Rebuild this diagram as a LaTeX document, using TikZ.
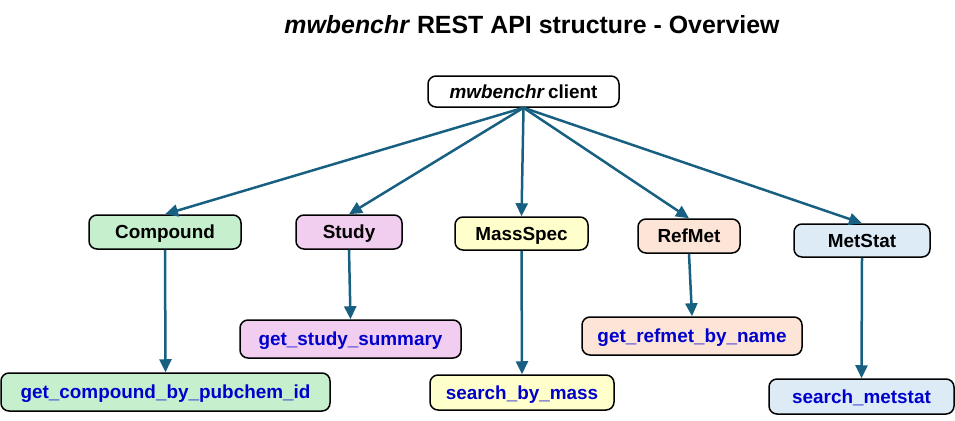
\documentclass[tikz,border=0pt]{standalone}
\usepackage{fontspec}
\setmainfont{Liberation Sans}
\usetikzlibrary{arrows.meta}
\definecolor{arrowc}{RGB}{24,96,130}
\definecolor{fgreen}{RGB}{198,239,206}
\definecolor{fpink}{RGB}{241,206,239}
\definecolor{fyellow}{RGB}{255,255,204}
\definecolor{fpeach}{RGB}{252,228,214}
\definecolor{fblue}{RGB}{221,235,247}
\definecolor{methc}{RGB}{0,0,204}
\tikzset{
  box/.style={draw=black, line width=1.5pt, rounded corners=8pt, inner sep=0pt,
    font=\fontsize{18.9}{20}\selectfont\bfseries, text height=13.5pt, text depth=0pt},
  cat/.style={box},
  meth/.style={box, text=methc},
  conn/.style={draw=arrowc, line width=2.5pt, -{Triangle[length=13pt,width=12pt]}},
}
\begin{document}
\begin{tikzpicture}[x=1pt,y=-1pt]
\useasboundingbox (0,0) rectangle (955,420);
\node[font=\fontsize{24.9}{28}\selectfont\bfseries] (title) at (532,25) {\textit{mwbenchr} REST API structure - Overview};
\node[box, fill=white, minimum width=191pt, minimum height=31pt] (client) at (523.5,91.5) {\textit{mwbenchr}\,client};

\node[cat, fill=fgreen, minimum width=152pt, minimum height=34pt] (compound) at (165,232) {Compound};
\node[cat, fill=fpink, minimum width=106pt, minimum height=34pt] (study) at (349,232) {Study};
\node[cat, fill=fyellow, minimum width=133pt, minimum height=33pt] (massspec) at (521.5,233.5) {MassSpec};
\node[cat, fill=fpeach, minimum width=102pt, minimum height=34pt] (refmet) at (689,236) {RefMet};
\node[cat, fill=fblue, minimum width=136pt, minimum height=33pt] (metstat) at (862,240.5) {MetStat};

\node[meth, fill=fgreen, minimum width=329pt, minimum height=38pt] (m1) at (165.5,392) {get\_compound\_by\_pubchem\_id};
\node[meth, fill=fpink, minimum width=221pt, minimum height=38pt] (m2) at (350.5,339) {get\_study\_summary};
\node[meth, fill=fyellow, minimum width=184pt, minimum height=35pt] (m3) at (522,392.5) {search\_by\_mass};
\node[meth, fill=fpeach, minimum width=220pt, minimum height=38pt] (m4) at (692,336) {get\_refmet\_by\_name};
\node[meth, fill=fblue, minimum width=185pt, minimum height=35pt] (m5) at (861.5,396.5) {search\_metstat};

\coordinate (src) at (client.south);
\foreach \n in {compound,study,massspec,refmet,metstat}{
  \draw[conn] (src) -- (\n.north);
}
\draw[conn] (compound.south) -- (m1.north);
\draw[conn] (study.south) -- (m2.north);
\draw[conn] (massspec.south) -- (m3.north);
\draw[conn] (refmet.south) -- (m4.north);
\draw[conn] (metstat.south) -- (m5.north);
\end{tikzpicture}
\end{document}
